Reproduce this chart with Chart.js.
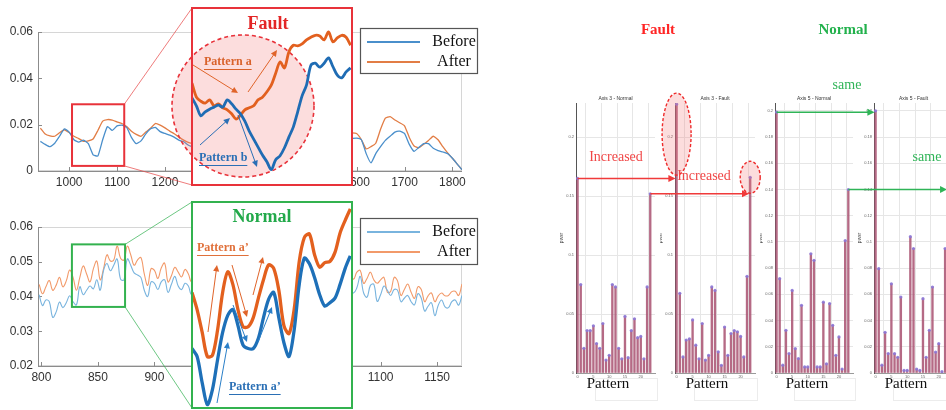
<!DOCTYPE html>
<html>
<head>
<meta charset="utf-8">
<script src="https://cdn.jsdelivr.net/npm/chart.js@4.4.1/dist/chart.umd.min.js"></script>
<style>
  html, body { margin: 0; padding: 0; background: #fff; }
  #wrap { position: relative; width: 946px; height: 410px; overflow: hidden; background: #fff; }
  #wrap canvas { position: absolute; }
</style>
</head>
<body>
<div id="wrap">
  <canvas id="topMain" width="480" height="195" style="left:0;top:0"></canvas>
  <canvas id="botMain" width="480" height="215" style="left:0;top:195px"></canvas>
  <canvas id="topZoom" width="200" height="195" style="left:160px;top:0"></canvas>
  <canvas id="botZoom" width="200" height="215" style="left:160px;top:195px"></canvas>
  <canvas id="p1" width="100" height="312" style="left:560px;top:92px"></canvas>
  <canvas id="p2" width="100" height="312" style="left:660px;top:92px"></canvas>
  <canvas id="p3" width="98" height="312" style="left:760px;top:92px"></canvas>
  <canvas id="p4" width="100" height="312" style="left:858px;top:92px"></canvas>
  <canvas id="ann" width="946" height="410" style="left:0;top:0"></canvas>
</div>
<script>
// ---- data ----
const seriesNames = ["Before", "After"];

// fault case (top left)
const topX = [940,950,960,970,980,990,1000,1010,1020,1030,1040,1050,1060,1070,1080,1090,1100,1110,1120,1130,
  1140,1150,1160,1170,1180,1190,1200,1210,1220,1230,1240,1250,1260,1270,1280,1290,1300,1310,1320,1330,
  1340,1350,1360,1370,1380,1390,1400,1410,1420,1430,1440,1450,1460,1470,1480,1490,1500,1510,1520,1530,
  1540,1550,1560,1570,1580,1590,1600,1610,1620,1630,1640,1650,1660,1670,1680,1690,1700,1710,1720,1730,
  1740,1750,1760,1770,1780,1790,1800,1810,1820];
const topBefore = [0.0128,0.0115,0.0105,0.012,0.015,0.0182,0.0168,0.0135,0.0125,0.0133,
  0.0118,0.007,0.0065,0.0135,0.0192,0.0175,0.0195,0.0198,0.0188,0.0145,
  0.0118,0.013,0.016,0.0182,0.0188,0.017,0.0162,0.0155,0.0145,0.0132,
  0.0125,0.011,0.0105,0.011,0.0125,0.0135,0.013,0.012,0.011,0.0105,
  0.0115,0.013,0.0142,0.0138,0.0125,0.0112,0.0105,0.0112,0.0128,0.014,
  0.0145,0.0135,0.012,0.011,0.0112,0.0125,0.0138,0.0142,0.0132,0.0122,
  0.0118,0.0125,0.0135,0.014,0.0138,0.014,0.0142,0.0135,0.0075,0.0035,
  0.0075,0.0105,0.0132,0.015,0.0168,0.0172,0.0162,0.0115,0.0085,0.0102,
  0.0118,0.0118,0.0098,0.0088,0.0082,0.0075,0.0055,0.003,0.0005];
const topAfter = [0.0185,0.016,0.0152,0.015,0.0165,0.0178,0.0166,0.015,0.014,0.0128,
  0.013,0.0138,0.0175,0.0215,0.0222,0.022,0.0212,0.0205,0.0192,0.0172,
  0.0158,0.015,0.0168,0.0185,0.0205,0.0198,0.0186,0.0172,0.016,0.0145,
  0.0132,0.0122,0.012,0.0128,0.0142,0.0155,0.015,0.014,0.0128,0.0122,
  0.013,0.0148,0.016,0.0155,0.0142,0.013,0.0122,0.013,0.0145,0.0158,
  0.0162,0.0152,0.0138,0.0128,0.013,0.0142,0.0155,0.016,0.015,0.014,
  0.0135,0.0142,0.0152,0.0158,0.0162,0.0165,0.0162,0.0135,0.0095,0.0105,
  0.012,0.018,0.0228,0.0235,0.022,0.0208,0.0195,0.0145,0.0108,0.01,
  0.0115,0.0132,0.015,0.0135,0.0105,0.0078,0.0055,0.003,0.0005];
const topXTicks = [1000, 1100, 1200, 1300, 1400, 1500, 1600, 1700, 1800];
const topYTicks = [0, 0.02, 0.04, 0.06];

// fault zoom window
const topZoomX = [1006,1009,1012,1015,1018,1021,1024,1027,1030,1033,1036,1039,1042,1045,1048,1051,1054,1057,1060,
  1063,1066,1069,1072,1075,1078,1081,1084,1087,1090,1093,1096,1099,1102,1105,1108,1111,1114];
const topZoomBefore = [0.0153,0.0141,0.0126,0.0132,0.0136,0.0139,0.0142,0.0139,0.015,0.0144,
  0.0136,0.0129,0.0118,0.0103,0.0091,0.0079,0.0067,0.0057,0.0045,0.006,
  0.0066,0.0078,0.0094,0.0109,0.0132,0.0156,0.0172,0.0202,0.0205,0.0199,
  0.0205,0.0213,0.02,0.0187,0.0183,0.0192,0.0198];
const topZoomAfter = [0.0175,0.0154,0.0148,0.0145,0.015,0.0141,0.0144,0.0138,0.0135,0.0129,
  0.0121,0.0127,0.0135,0.0138,0.0141,0.015,0.0154,0.0162,0.0172,0.019,
  0.0207,0.0198,0.0222,0.0232,0.0231,0.0234,0.024,0.0244,0.0247,0.0246,
  0.024,0.0252,0.0237,0.0243,0.0247,0.0244,0.0232];
const topZoomRange = { xmin: 1006, xmax: 1115, ymin: 0.0022, ymax: 0.0288 };

// normal case (bottom left)
const botX = [798,801,804,807,810,813,816,819,822,825,828,831,834,837,840,843,846,849,852,855,858,861,864,867,870,873,
  876,879,882,885,888,891,894,897,900,903,906,909,912,915,918,921,924,927,930,933,
  940,950,960,970,980,990,1000,1010,1020,1030,1040,1050,1060,1070,
  1076,1079,1082,1085,1088,1091,1094,1097,1100,1103,1106,1109,1112,1115,1118,1121,1124,1127,1130,1133,
  1136,1139,1142,1145,1148,1151,1154,1157,1160,1163,1166,1169,1172];
const botBefore = [0.0405,0.0374,0.039,0.0385,0.034,0.0355,0.0384,0.0368,0.0382,0.0402,
  0.0385,0.0376,0.0428,0.0405,0.0418,0.043,0.0422,0.0448,0.0418,0.0475,
  0.0495,0.0474,0.049,0.0508,0.045,0.0448,0.0508,0.049,0.0468,0.0462,
  0.0455,0.0418,0.04,0.0442,0.0438,0.042,0.0442,0.0448,0.0412,0.0435,
  0.0458,0.043,0.042,0.0438,0.043,0.0405,
  0.042,0.044,0.041,0.043,0.0415,0.044,0.042,0.041,0.043,0.042,0.041,0.043,0.042,0.0415,
  0.041,0.0425,0.0458,0.041,0.0398,0.0432,0.0435,0.0386,0.0405,0.043,
  0.0418,0.0403,0.042,0.0418,0.0385,0.0395,0.0403,0.0385,0.0376,0.0408,
  0.0395,0.0358,0.0372,0.0382,0.0345,0.0375,0.039,0.037,0.0368,0.0385,
  0.039,0.0375,0.0403];
const botAfter = [0.0435,0.0408,0.0428,0.0446,0.0418,0.0432,0.0455,0.0428,0.0445,0.0476,
  0.0455,0.0418,0.0455,0.0488,0.0465,0.0442,0.048,0.0502,0.0448,0.048,
  0.052,0.0502,0.0505,0.0545,0.051,0.0505,0.0545,0.052,0.049,0.0505,
  0.0512,0.0465,0.0432,0.048,0.0475,0.0452,0.0482,0.0496,0.0442,0.046,
  0.0484,0.047,0.0456,0.0478,0.0465,0.0442,
  0.046,0.048,0.0455,0.047,0.046,0.048,0.0465,0.045,0.047,0.046,0.0455,0.047,0.046,0.0465,
  0.045,0.047,0.0475,0.0438,0.0452,0.047,0.0448,0.0438,0.0448,0.0455,
  0.0412,0.0415,0.0455,0.0445,0.0403,0.042,0.0436,0.0412,0.0395,0.0428,
  0.042,0.0385,0.0402,0.041,0.0385,0.0402,0.041,0.0402,0.0403,0.0414,
  0.0415,0.0403,0.0436];
const botXTicks = [800, 850, 900, 950, 1000, 1050, 1100, 1150];
const botYTicks = [0.02, 0.03, 0.04, 0.05, 0.06];

// normal zoom window
const botZoomX = [827,828.5,830,831.5,833,834.5,836,837.5,839,840.5,842,843.5,845,846.5,848,849.5,
  851,852.5,854,855.5,857,858.5,860,861.5,863,864.5,866,867.5,869,870.5,872,873.5];
const botZoomBefore = [0.0422,0.0415,0.0392,0.0373,0.0386,0.0412,0.0436,0.0451,0.0456,0.0442,
  0.0425,0.0422,0.0422,0.0431,0.0449,0.0465,0.0471,0.0449,0.0427,0.0415,
  0.0438,0.0478,0.0501,0.0496,0.0484,0.0469,0.0459,0.0462,0.0466,0.0478,
  0.0492,0.0503];
const botZoomAfter = [0.0471,0.0456,0.0436,0.0415,0.0416,0.0438,0.0471,0.0489,0.0478,0.0456,
  0.0441,0.0441,0.0449,0.0466,0.0482,0.0495,0.0492,0.0473,0.0442,0.0435,
  0.0456,0.0498,0.0519,0.0522,0.0504,0.0493,0.0497,0.0498,0.0506,0.0523,
  0.0534,0.0544];
const botZoomRange = { xmin: 827, xmax: 874, ymin: 0.037, ymax: 0.055 };

// pattern histograms (right)
const patternIdx = [0,1,2,3,4,5,6,7,8,9,10,11,12,13,14,15,16,17,18,19,20,21,22,23];
const axis3Normal = [0.165,0.075,0.021,0.036,0.036,0.04,0.025,0.021,0.042,0.011,0.015,0.075,
  0.073,0.021,0.012,0.048,0.013,0.036,0.046,0.03,0.031,0.012,0.073,0.152];
const axis3Fault = [0.228,0.0676,0.0136,0.028,0.029,0.045,0.0236,0.012,0.042,0.011,0.015,0.073,
  0.07,0.018,0.0065,0.039,0.015,0.0335,0.036,0.035,0.031,0.0136,0.082,0.166];
const axis5Normal = [0.199,0.072,0.006,0.0326,0.0148,0.063,0.0186,0.011,0.0516,0.0046,0.0046,0.091,
  0.086,0.0046,0.0046,0.054,0.007,0.053,0.0364,0.0135,0.0275,0.003,0.101,0.14];
const axis5Fault = [0.2,0.0796,0.006,0.031,0.0148,0.068,0.0148,0.012,0.058,0.002,0.002,0.104,
  0.095,0.003,0.002,0.0567,0.012,0.0326,0.0656,0.016,0.0224,0.001,0.095,0.14];
const patternXTicks = [0, 5, 10, 15, 20];
const axis3Ticks = [0, 0.05, 0.1, 0.15, 0.2];
const axis5Ticks = [0, 0.02, 0.04, 0.06, 0.08, 0.1, 0.12, 0.14, 0.16, 0.18, 0.2];

// ---- helpers ----
const SANS = "'Liberation Sans', Arial, sans-serif";
const SERIF = "'Liberation Serif', 'Times New Roman', serif";
const TOP_BOX = { left: 192, top: 8, right: 352, bottom: 185 };
const BOT_BOX = { left: 192, top: 202, right: 352, bottom: 408 };

function pts(xs, ys) { return xs.map((x, i) => ({ x: x, y: ys[i] })); }

function fixedTicks(list) {
  return s => { s.ticks = list.map(v => ({ value: v })); };
}

function arrow(ctx, x1, y1, x2, y2, color, lw, head) {
  const a = Math.atan2(y2 - y1, x2 - x1);
  ctx.save();
  ctx.strokeStyle = color; ctx.fillStyle = color; ctx.lineWidth = lw;
  ctx.beginPath();
  ctx.moveTo(x1, y1);
  ctx.lineTo(x2 - Math.cos(a) * head * 0.8, y2 - Math.sin(a) * head * 0.8);
  ctx.stroke();
  ctx.beginPath();
  ctx.moveTo(x2, y2);
  ctx.lineTo(x2 - head * Math.cos(a - 0.45), y2 - head * Math.sin(a - 0.45));
  ctx.lineTo(x2 - head * Math.cos(a + 0.45), y2 - head * Math.sin(a + 0.45));
  ctx.closePath();
  ctx.fill();
  ctx.restore();
}

// frame, inward ticks, highlight window, connectors and legend of a main chart
function framePlugin(o) {
  return {
    id: "frame",
    beforeDatasetsDraw(chart) {
      const { ctx, chartArea: a, scales: { x, y } } = chart;
      ctx.save();
      ctx.lineWidth = 1;
      ctx.strokeStyle = "#d6d6d6";
      ctx.strokeRect(a.left + 0.5, a.top + 0.5, a.width - 1, a.height - 1);
      ctx.strokeStyle = "#8c8c8c";
      ctx.beginPath();
      ctx.moveTo(a.left + 0.5, a.top); ctx.lineTo(a.left + 0.5, a.bottom + 0.5); ctx.lineTo(a.right, a.bottom + 0.5);
      x.ticks.forEach(t => { const p = Math.round(x.getPixelForValue(t.value)) + 0.5; ctx.moveTo(p, a.bottom); ctx.lineTo(p, a.bottom - 4); });
      y.ticks.forEach(t => { const p = Math.round(y.getPixelForValue(t.value)) + 0.5; ctx.moveTo(a.left, p); ctx.lineTo(a.left + 4, p); });
      ctx.stroke();
      ctx.restore();
    },
    afterDraw(chart) {
      const { ctx, scales: { x, y } } = chart;
      const r = o.zoomRange;
      const l = x.getPixelForValue(r.xmin), rr = x.getPixelForValue(r.xmax);
      const t = y.getPixelForValue(r.ymax), b = y.getPixelForValue(r.ymin);
      ctx.save();
      ctx.strokeStyle = o.boxColor; ctx.lineWidth = 2;
      ctx.strokeRect(l, t, rr - l, b - t);
      ctx.strokeStyle = o.linkColor; ctx.lineWidth = 1;
      ctx.beginPath();
      ctx.moveTo(rr, t); ctx.lineTo(o.box.left, o.box.top - o.canvasTop);
      ctx.moveTo(rr, b); ctx.lineTo(o.box.left, o.box.bottom - o.canvasTop);
      ctx.stroke();
      // legend
      const L = o.legend;
      ctx.fillStyle = "#fff"; ctx.fillRect(L.x, L.y, L.w, L.h);
      ctx.strokeStyle = "#555"; ctx.lineWidth = 1.2;
      ctx.strokeRect(L.x + 0.5, L.y + 0.5, L.w, L.h);
      ctx.font = "16px " + SERIF; ctx.textBaseline = "middle"; ctx.fillStyle = "#111";
      chart.data.datasets.forEach((d, i) => {
        const yy = L.y + 14 + i * 20;
        ctx.strokeStyle = d.borderColor; ctx.lineWidth = 2;
        ctx.beginPath(); ctx.moveTo(L.x + 7, yy); ctx.lineTo(L.x + 60, yy); ctx.stroke();
        ctx.textAlign = "center";
        ctx.fillText(d.label, L.x + 94, yy);
      });
      ctx.restore();
    }
  };
}

function mainChart(id, o) {
  return new Chart(document.getElementById(id), {
    type: "line",
    data: {
      datasets: [
        { label: seriesNames[0], data: pts(o.x, o.before), borderColor: o.blue, borderWidth: o.lw, pointRadius: 0, tension: o.tension },
        { label: seriesNames[1], data: pts(o.x, o.after), borderColor: o.orange, borderWidth: o.lw, pointRadius: 0, tension: o.tension }
      ]
    },
    options: {
      responsive: false, animation: false, events: [],
      layout: { padding: { top: 32, right: 18, left: 0, bottom: 0 } },
      plugins: { legend: { display: false }, tooltip: { enabled: false } },
      scales: {
        x: {
          type: "linear", min: o.xmin, max: o.xmax,
          grid: { display: false, drawTicks: false }, border: { display: false },
          ticks: { autoSkip: false, maxRotation: 0, padding: 4, color: "#333", font: { family: SANS, size: 12 },
                   callback: v => String(v) },
          afterBuildTicks: fixedTicks(o.xticks),
          afterFit: s => { s.height = o.xh; }
        },
        y: {
          min: o.yticks[0], max: o.yticks[o.yticks.length - 1],
          grid: { display: false, drawTicks: false }, border: { display: false },
          afterBuildTicks: fixedTicks(o.yticks),
          ticks: { padding: 5, color: "#333", font: { family: SANS, size: 12 }, callback: v => (v === 0 ? "0" : v.toFixed(2)) },
          afterFit: s => { s.width = 38; }
        }
      }
    },
    plugins: [framePlugin(o)]
  });
}

function zoomPlugin(o) {
  return {
    id: "zoomDeco",
    beforeDraw(chart) {
      const { ctx, chartArea: a } = chart;
      ctx.save(); ctx.fillStyle = "#fff"; ctx.fillRect(a.left, a.top, a.width, a.height + o.coverBelow); ctx.restore();
    },
    beforeDatasetsDraw(chart) {
      if (!o.circle) return;
      const { ctx, chartArea: a } = chart;
      ctx.save();
      ctx.beginPath();
      ctx.arc(a.left + o.circle.cx, a.top + o.circle.cy, o.circle.r, 0, Math.PI * 2);
      ctx.fillStyle = "rgba(245,120,120,0.25)"; ctx.fill();
      ctx.setLineDash([4, 3]); ctx.strokeStyle = "#e8323a"; ctx.lineWidth = 1.6; ctx.stroke();
      ctx.restore();
    },
    afterDatasetsDraw(chart) {
      const { ctx, chartArea: a } = chart;
      o.arrows.forEach(r => arrow(ctx, a.left + r[0], a.top + r[1], a.left + r[2], a.top + r[3], r[4], 1, 7));
      ctx.save();
      ctx.textBaseline = "middle";
      ctx.font = "bold 18px " + SERIF; ctx.fillStyle = o.title.color; ctx.textAlign = "center";
      ctx.fillText(o.title.text, a.left + o.title.x, a.top + o.title.y);
      ctx.font = "bold 12px " + SERIF; ctx.textAlign = "left";
      o.labels.forEach(l => {
        const w = ctx.measureText(l.text).width;
        ctx.fillStyle = l.color; ctx.fillText(l.text, a.left + l.x, a.top + l.y);
        ctx.strokeStyle = l.color; ctx.lineWidth = 1;
        ctx.beginPath(); ctx.moveTo(a.left + l.x, a.top + l.y + 7.5); ctx.lineTo(a.left + l.x + w, a.top + l.y + 7.5); ctx.stroke();
      });
      ctx.restore();
    },
    afterDraw(chart) {
      const { ctx, chartArea: a } = chart;
      ctx.save(); ctx.strokeStyle = o.boxColor; ctx.lineWidth = 2;
      ctx.strokeRect(a.left, a.top, a.width, a.height); ctx.restore();
    }
  };
}

function zoomChart(id, o) {
  const c = document.getElementById(id);
  return new Chart(c, {
    type: "line",
    data: {
      datasets: [
        { label: seriesNames[0], data: pts(o.x, o.before), borderColor: o.blue, borderWidth: o.lw, pointRadius: 0, tension: 0.3 },
        { label: seriesNames[1], data: pts(o.x, o.after), borderColor: o.orange, borderWidth: o.lw, pointRadius: 0, tension: 0.3 }
      ]
    },
    options: {
      responsive: false, animation: false, events: [],
      layout: { padding: {
        left: o.box.left - o.canvasLeft, top: o.box.top - o.canvasTop,
        right: o.canvasLeft + c.width - o.box.right, bottom: o.canvasTop + c.height - o.box.bottom } },
      plugins: { legend: { display: false }, tooltip: { enabled: false } },
      scales: {
        x: { type: "linear", display: false, min: o.range.xmin, max: o.range.xmax },
        y: { display: false, min: o.range.ymin, max: o.range.ymax }
      }
    },
    plugins: [zoomPlugin(o)]
  });
}

// ---- left: fault ----
const ORANGE_T = "#d9622b", BLUE_T = "#2a6fb5";
mainChart("topMain", {
  x: topX, before: topBefore, after: topAfter, xmin: 935, xmax: 1820, xticks: topXTicks, xh: 24,
  yticks: topYTicks, blue: "#4a8fcb", orange: "#e27d45", lw: 1.3, tension: 0.15,
  zoomRange: topZoomRange, box: TOP_BOX, canvasTop: 0, boxColor: "#e8323a", linkColor: "rgba(232,80,80,0.75)",
  legend: { x: 360, y: 28, w: 117, h: 45 }
});
zoomChart("topZoom", {
  x: topZoomX, before: topZoomBefore, after: topZoomAfter, range: topZoomRange,
  box: TOP_BOX, canvasLeft: 160, canvasTop: 0, blue: "#1f6cb4", orange: "#e2601f", lw: 2.8,
  boxColor: "#e8323a", circle: { cx: 51, cy: 98, r: 71 }, coverBelow: 6,
  title: { text: "Fault", x: 76, y: 16, color: "#e32626" },
  labels: [{ text: "Pattern a", x: 12, y: 54, color: ORANGE_T }, { text: "Pattern b", x: 7, y: 150, color: BLUE_T }],
  arrows: [[1, 57, 46, 85, "#e0642a"], [56, 84, 85, 42, "#e0642a"], [8, 137, 38, 110, "#2a6fb5"], [46, 107, 65, 159, "#2a6fb5"]]
});

// ---- left: normal ----
mainChart("botMain", {
  x: botX, before: botBefore, after: botAfter, xmin: 797, xmax: 1172, xticks: botXTicks, xh: 44,
  yticks: botYTicks, blue: "#79b4de", orange: "#f29a6a", lw: 1.1, tension: 0.4,
  zoomRange: botZoomRange, box: BOT_BOX, canvasTop: 195, boxColor: "#33b24f", linkColor: "rgba(60,180,90,0.75)",
  legend: { x: 360, y: 23, w: 117, h: 46 }
});
zoomChart("botZoom", {
  x: botZoomX, before: botZoomBefore, after: botZoomAfter, range: botZoomRange,
  box: BOT_BOX, canvasLeft: 160, canvasTop: 195, blue: "#1e70b8", orange: "#e3601e", lw: 3.3,
  boxColor: "#33b24f", circle: null, coverBelow: 0,
  title: { text: "Normal", x: 70, y: 15, color: "#22a94a" },
  labels: [{ text: "Pattern a\u2019", x: 5, y: 46, color: "#e0703a" }, { text: "Pattern a\u2019", x: 37, y: 185, color: BLUE_T }],
  arrows: [[16, 130, 25, 63, "#e0642a"], [40, 63, 55, 115, "#e0642a"], [61, 93, 71, 55, "#e0642a"],
           [25, 201, 36, 140, "#2a7fc8"], [41, 103, 55, 140, "#2a7fc8"], [66, 140, 80, 105, "#2a7fc8"]]
});

// ---- right: pattern histograms ----
function panelPlugin(o) {
  return {
    id: "panelDeco",
    afterDraw(chart) {
      const { ctx, chartArea: a } = chart;
      ctx.save();
      ctx.fillStyle = "#333"; ctx.textAlign = "center"; ctx.textBaseline = "middle";
      ctx.font = "5px " + SANS;
      ctx.fillText(o.title, (a.left + a.right) / 2, a.top - 4);
      ctx.save();
      ctx.translate(a.left - 14, (a.top + a.bottom) / 2); ctx.rotate(-Math.PI / 2);
      ctx.fillText("pwsf", 0, 0);
      ctx.restore();
      ctx.strokeStyle = "#ececec"; ctx.lineWidth = 1;
      ctx.strokeRect(a.left + 19.5, a.bottom + 5.5, a.right - a.left - 17, 22);
      ctx.fillStyle = "#111"; ctx.font = "15px " + SERIF;
      ctx.fillText("Pattern", a.left + 32, a.bottom + 11);
      ctx.restore();
    }
  };
}

function panelChart(id, o) {
  const c = document.getElementById(id);
  return new Chart(c, {
    type: "bar",
    data: {
      datasets: [
        { type: "line", data: pts(patternIdx, o.vals), showLine: false, pointRadius: 1.6, pointBorderWidth: 0,
          pointBackgroundColor: "rgba(140,120,215,0.9)", order: 0 },
        { type: "bar", data: pts(patternIdx, o.vals), backgroundColor: "rgba(168,80,112,0.85)", barThickness: 1.7, order: 1 }
      ]
    },
    options: {
      responsive: false, animation: false, events: [],
      layout: { padding: { left: o.areaLeft - o.left - o.yw, right: o.left + c.width - o.areaRight, top: 11, bottom: 0 } },
      plugins: { legend: { display: false }, tooltip: { enabled: false } },
      scales: {
        x: {
          type: "linear", offset: false, min: -0.5, max: 24.5,
          grid: { color: "#e6e6e6", drawTicks: false }, border: { color: "#9a9a9a" },
          ticks: { padding: 1, color: "#666", font: { family: SANS, size: 4 } },
          afterBuildTicks: fixedTicks(patternXTicks),
          afterFit: s => { s.height = 31; }
        },
        y: {
          min: 0, max: o.ymax,
          grid: { color: "#e6e6e6", drawTicks: false }, border: { color: "#555" },
          ticks: { padding: 2, color: "#666", font: { family: SANS, size: 4 },
                   callback: v => String(+v.toFixed(3)) },
          afterBuildTicks: fixedTicks(o.yticks),
          afterFit: s => { s.width = o.yw; }
        }
      }
    },
    plugins: [panelPlugin(o)]
  });
}

const panels = [
  { id: "p1", left: 560, areaLeft: 576, areaRight: 655, yw: 16, vals: axis3Normal, ymax: 0.229, yticks: axis3Ticks, title: "Axis 3 - Normal" },
  { id: "p2", left: 660, areaLeft: 675, areaRight: 755, yw: 15, vals: axis3Fault, ymax: 0.229, yticks: axis3Ticks, title: "Axis 3 - Fault" },
  { id: "p3", left: 760, areaLeft: 775, areaRight: 853, yw: 15, vals: axis5Normal, ymax: 0.206, yticks: axis5Ticks, title: "Axis 5 - Normal" },
  { id: "p4", left: 858, areaLeft: 874, areaRight: 953, yw: 16, vals: axis5Fault, ymax: 0.206, yticks: axis5Ticks, title: "Axis 5 - Fault" }
];
const panelCharts = panels.map(p => panelChart(p.id, p));

// ---- annotations across the histograms ----
const ann = document.getElementById("ann").getContext("2d");
function pagePt(k, xv, yv) {
  const ch = panelCharts[k];
  return { x: panels[k].left + ch.scales.x.getPixelForValue(xv), y: 92 + ch.scales.y.getPixelForValue(yv) };
}
function linkArrow(from, to, idx, vals, color) {
  const a = pagePt(from, idx, vals[idx]);
  const b = pagePt(to, idx, vals[idx]);
  arrow(ann, a.x, a.y, b.x - 1, a.y, color, 1.5, 8);
}
function ellipse(c, rx, ry) {
  ann.save();
  ann.beginPath(); ann.ellipse(c.x, c.y, rx, ry, 0, 0, Math.PI * 2);
  ann.fillStyle = "rgba(245,120,120,0.25)"; ann.fill();
  ann.setLineDash([3, 2]); ann.strokeStyle = "#ee2a2a"; ann.lineWidth = 1.4; ann.stroke();
  ann.restore();
}
ellipse(pagePt(1, 0, 0.2026), 14.5, 41);
ellipse(pagePt(1, 23, 0.166), 10, 16);
linkArrow(0, 1, 0, axis3Normal, "#f03a3a");
linkArrow(0, 1, 23, axis3Normal, "#f03a3a");
linkArrow(2, 3, 0, axis5Normal, "#2fb457");
linkArrow(2, 3, 23, axis5Normal, "#2fb457");

ann.save();
ann.textAlign = "center"; ann.textBaseline = "middle";
ann.font = "bold 15px " + SERIF;
ann.fillStyle = "#ff2424"; ann.fillText("Fault", 658, 30);
ann.fillStyle = "#22b14c"; ann.fillText("Normal", 843, 30);
ann.font = "14px " + SERIF;
ann.fillStyle = "#f04646"; ann.fillText("Increased", 616, 157); ann.fillText("Increased", 704, 176);
ann.fillStyle = "#2fb457"; ann.fillText("same", 847, 85); ann.fillText("same", 927, 157);
ann.restore();
</script>
</body>
</html>
